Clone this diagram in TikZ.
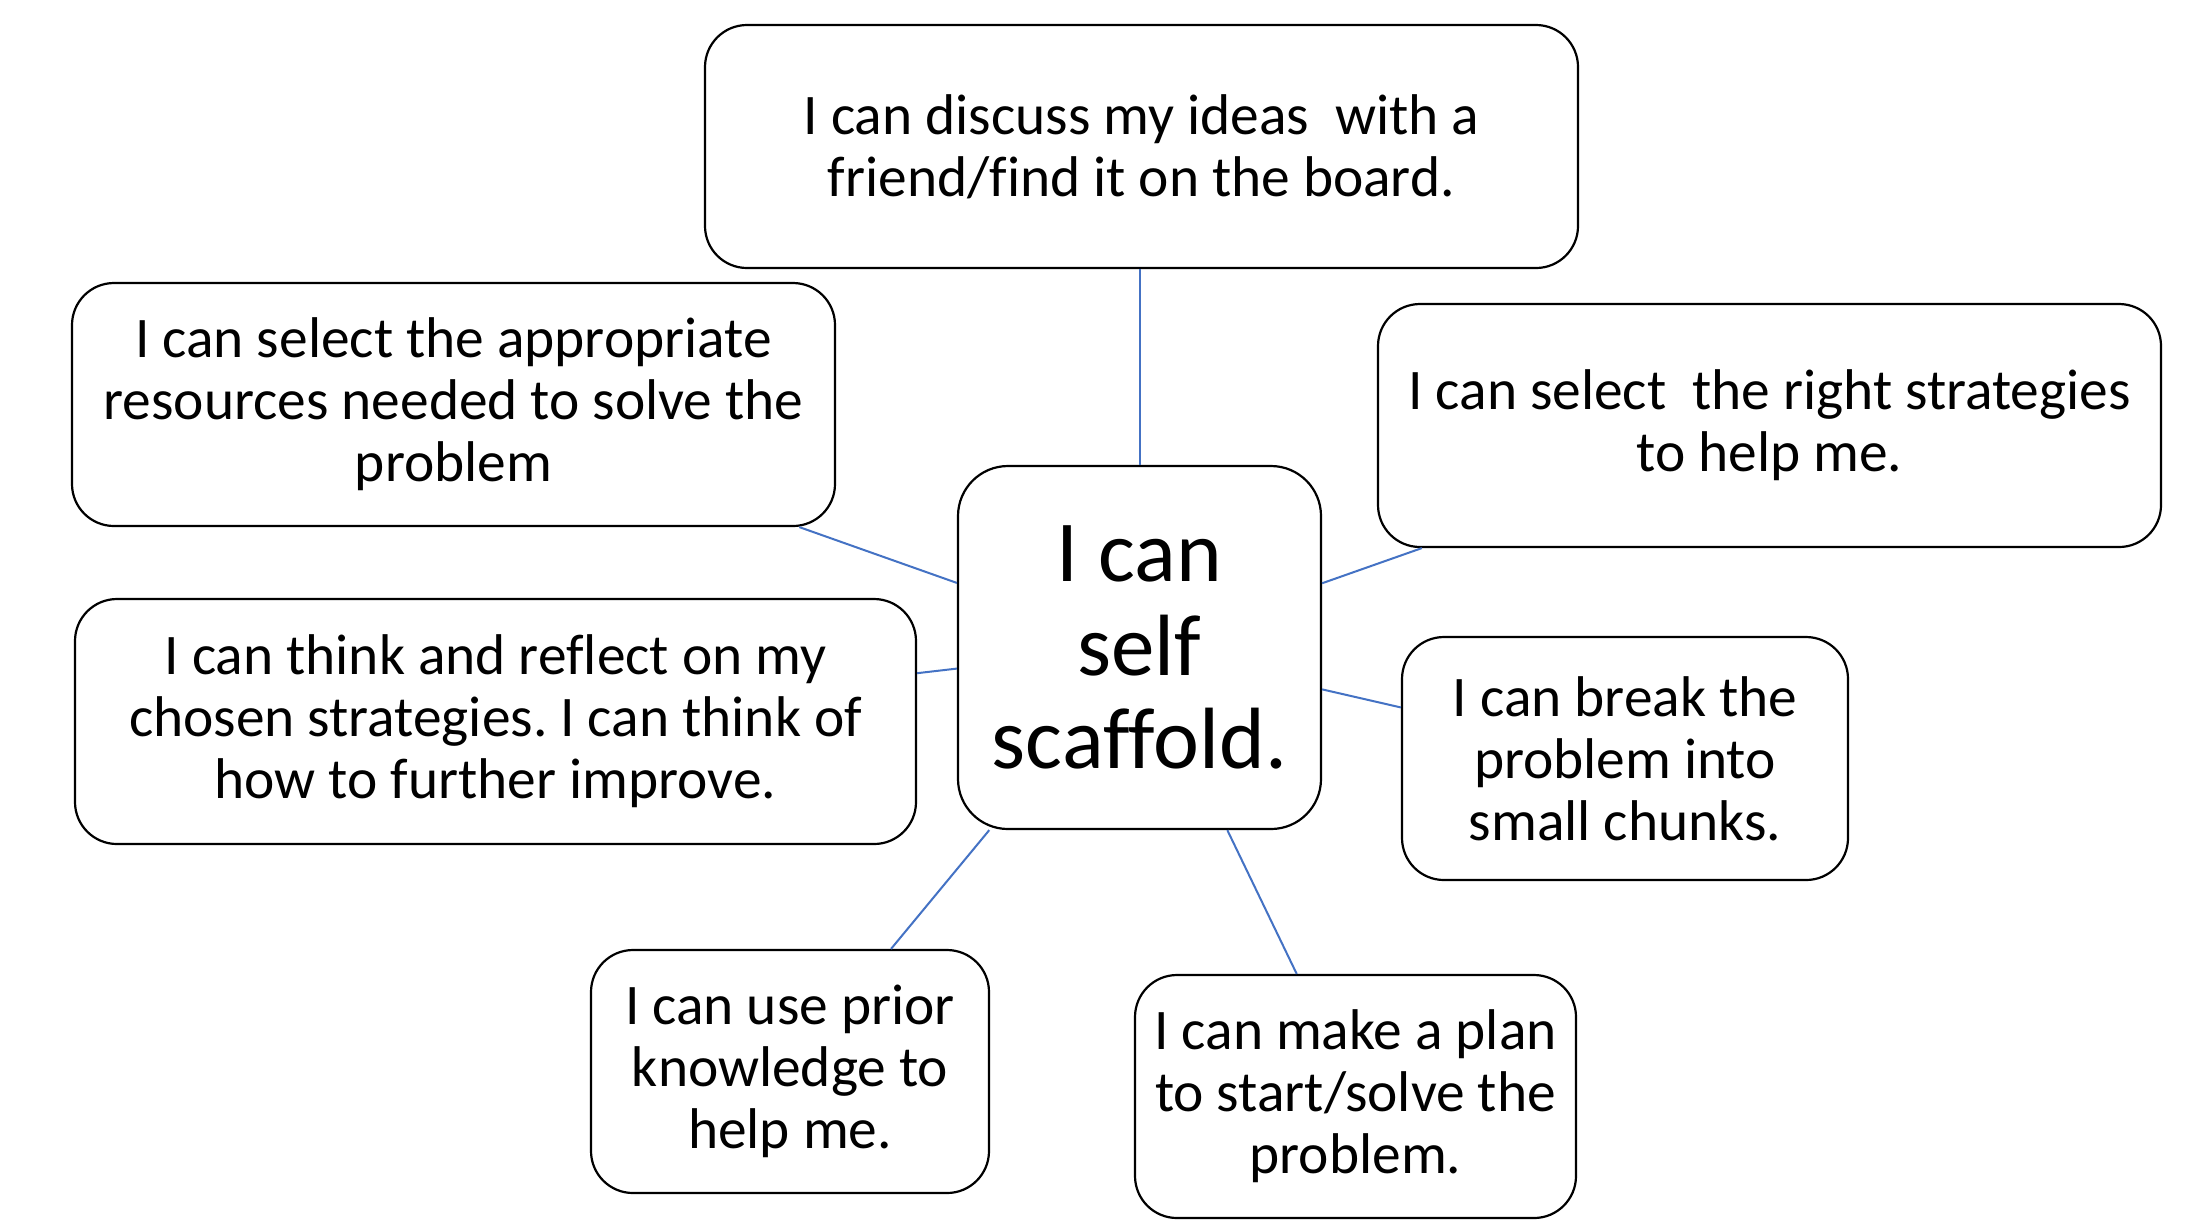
\documentclass[tikz,border=0pt]{standalone}
\usepackage{fontspec}
\setmainfont{Carlito}[Ligatures={NoCommon}]
\definecolor{linkblue}{RGB}{68,114,196}
\begin{document}
\frenchspacing
\begin{tikzpicture}[x=0.5pt,y=-0.5pt,
  box/.style={draw=black,line width=1.1pt,rounded corners=21pt,fill=white,
    align=center,inner sep=0pt,font=\fontsize{28.7}{31}\selectfont},
  hub/.style={box,rounded corners=25pt,font=\fontsize{43.5}{46.6}\selectfont},
  link/.style={draw=linkblue,line width=1pt}]
\useasboundingbox (0,0) rectangle (2200,1228);
\fill[white] (0,0) rectangle (2200,1228);
\node[hub,minimum width=181.5pt,minimum height=181.5pt] (c) at (1139.5,647.5) {I can\\self\\scaffold.};
\node[box,minimum width=436.5pt,minimum height=121.5pt] (top) at (1141.5,146.5) {I can discuss my ideas\ \ with a\\friend/find it on the board.};
\node[box,minimum width=381.5pt,minimum height=121.5pt] (lu) at (453.5,404.5) {I can select the appropriate\\resources needed to solve the\\problem};
\node[box,minimum width=391.5pt,minimum height=121.5pt] (ru) at (1769.5,425.5) {I can select\ \ the right strategies\\to help me.};
\node[box,minimum width=420.5pt,minimum height=122.5pt] (lm) at (495.5,721.5) {I can think and reflect on my\\chosen strategies. I can think of\\how to further improve.};
\node[box,minimum width=223pt,minimum height=121.5pt] (rm) at (1625,758.5) {I can break the\\problem into\\small chunks.};
\node[box,minimum width=199pt,minimum height=121.5pt] (bl) at (790,1071.5) {I can use prior\\knowledge to\\help me.};
\node[box,minimum width=220.5pt,minimum height=121.5pt] (br) at (1355.5,1096.5) {I can make a plan\\to start/solve the\\problem.};
\draw[link] (c.north) -- (c.north |- top.south);
\draw[link] (c) -- (lu);
\draw[link] (c) -- (ru);
\draw[link] (c) -- (lm);
\draw[link] (c) -- (rm);
\draw[link] (c) -- (bl);
\draw[link] (c) -- (br);
\end{tikzpicture}
\end{document}
